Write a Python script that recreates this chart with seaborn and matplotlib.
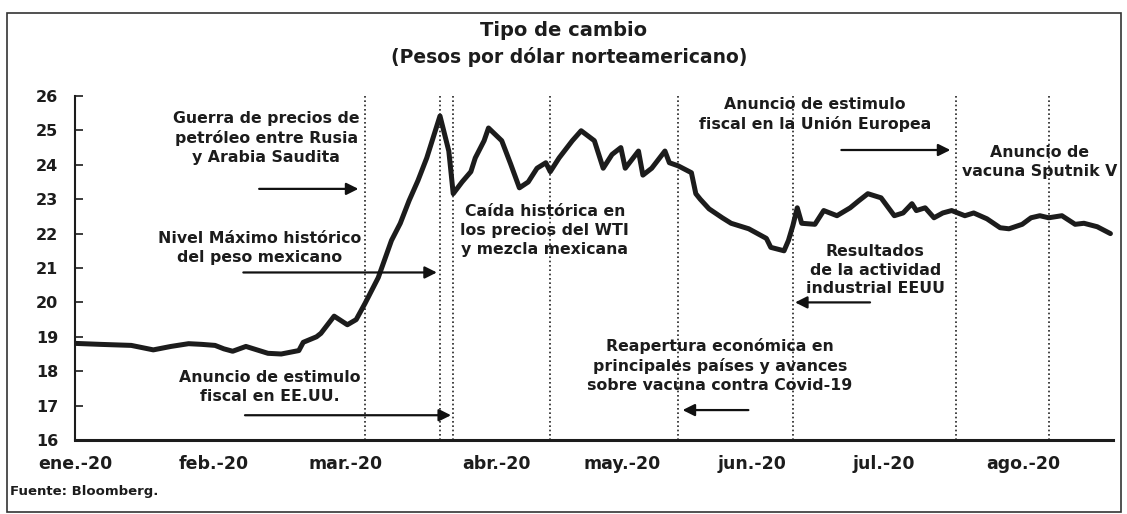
import matplotlib
matplotlib.use("Agg")
import matplotlib.pyplot as plt
import seaborn as sns
import pandas as pd
from matplotlib.patches import Rectangle

# ---------------- data ----------------
fechas = [
    "2020-01-03", "2020-01-09", "2020-01-16", "2020-01-21", "2020-01-25", "2020-01-29",
    "2020-02-01", "2020-02-04", "2020-02-06", "2020-02-08", "2020-02-11", "2020-02-14",
    "2020-02-16", "2020-02-19", "2020-02-23", "2020-02-24", "2020-02-27", "2020-02-28",
    "2020-03-02", "2020-03-05", "2020-03-07", "2020-03-09", "2020-03-12", "2020-03-15",
    "2020-03-17", "2020-03-19", "2020-03-21", "2020-03-23", "2020-03-26", "2020-03-28",
    "2020-03-29", "2020-03-31", "2020-04-02", "2020-04-03", "2020-04-05", "2020-04-06",
    "2020-04-09", "2020-04-11", "2020-04-13", "2020-04-15", "2020-04-17", "2020-04-19",
    "2020-04-20", "2020-04-22", "2020-04-25", "2020-04-27", "2020-04-30", "2020-05-02",
    "2020-05-04", "2020-05-06", "2020-05-07", "2020-05-10", "2020-05-11", "2020-05-13",
    "2020-05-16", "2020-05-17", "2020-05-19", "2020-05-22", "2020-05-23", "2020-05-24",
    "2020-05-26", "2020-05-29", "2020-05-31", "2020-06-04", "2020-06-06", "2020-06-08",
    "2020-06-09", "2020-06-12", "2020-06-13", "2020-06-14", "2020-06-15", "2020-06-16",
    "2020-06-19", "2020-06-21", "2020-06-24", "2020-06-27", "2020-06-29", "2020-07-01",
    "2020-07-04", "2020-07-07", "2020-07-09", "2020-07-11", "2020-07-12", "2020-07-14",
    "2020-07-16", "2020-07-18", "2020-07-20", "2020-07-23", "2020-07-25", "2020-07-28",
    "2020-07-31", "2020-08-02", "2020-08-05", "2020-08-07", "2020-08-09", "2020-08-11",
    "2020-08-14", "2020-08-17", "2020-08-19", "2020-08-22", "2020-08-25",
]
tipo_cambio = [
    18.81, 18.78, 18.75, 18.62, 18.72, 18.80,
    18.78, 18.75, 18.65, 18.58, 18.72, 18.60,
    18.52, 18.50, 18.60, 18.84, 19.00, 19.10,
    19.60, 19.35, 19.50, 19.97, 20.72, 21.80,
    22.30, 22.96, 23.54, 24.20, 25.42, 24.40,
    23.16, 23.50, 23.80, 24.20, 24.70, 25.07,
    24.70, 24.03, 23.33, 23.50, 23.90, 24.06,
    23.80, 24.20, 24.70, 24.99, 24.70, 23.90,
    24.30, 24.50, 23.90, 24.40, 23.70, 23.90,
    24.40, 24.06, 23.97, 23.77, 23.16, 23.00,
    22.72, 22.46, 22.30, 22.14, 22.00, 21.86,
    21.60, 21.50, 21.80, 22.23, 22.75, 22.30,
    22.27, 22.67, 22.52, 22.75, 22.96, 23.16,
    23.04, 22.52, 22.60, 22.87, 22.67, 22.75,
    22.46, 22.60, 22.67, 22.52, 22.60, 22.43,
    22.17, 22.14, 22.27, 22.46, 22.52, 22.46,
    22.52, 22.27, 22.30, 22.20, 22.00,
]
eventos = ["2020-03-09", "2020-03-26", "2020-03-29", "2020-04-20",
           "2020-05-19", "2020-06-14", "2020-07-21", "2020-08-11"]
meses = ["ene.-20", "feb.-20", "mar.-20", "abr.-20", "may.-20", "jun.-20", "jul.-20", "ago.-20"]
meses_pos = ["2020-01-03 06:00", "2020-02-03 19:00", "2020-03-04 12:00", "2020-04-07 17:00",
             "2020-05-06 07:00", "2020-06-04 19:00", "2020-07-04 17:00", "2020-08-05 05:00"]
y_ticks = list(range(16, 27))

titulo = "Tipo de cambio"
subtitulo = "(Pesos por dólar norteamericano)"
fuente = "Fuente: Bloomberg."

notas = [
    ("Guerra de precios de\npetróleo entre Rusia\ny Arabia Saudita", "2020-02-15 14:00", 24.78),
    ("Nivel Máximo histórico\ndel peso mexicano", "2020-02-14", 21.58),
    ("Anuncio de estimulo\nfiscal en EE.UU.", "2020-02-16 12:00", 17.55),
    ("Caída histórica en\nlos precios del WTI\ny mezcla mexicana", "2020-04-18 19:00", 22.09),
    ("Resultados\nde la actividad\nindustrial EEUU", "2020-07-02 17:00", 20.94),
    ("Reapertura económica en\nprincipales países y avances\nsobre vacuna contra Covid-19", "2020-05-28 12:00", 18.17),
    ("Anuncio de estimulo\nfiscal en la Unión Europea", "2020-06-19", 25.46),
    ("Anuncio de\nvacuna Sputnik V", "2020-08-09", 24.09),
]
# (tail date, head date, level)
flechas = [
    ("2020-02-14", "2020-03-07 12:00", 23.30),
    ("2020-02-10 10:00", "2020-03-25 07:00", 20.87),
    ("2020-02-10 19:00", "2020-03-28 12:00", 16.72),
    ("2020-07-01 12:00", "2020-06-14 12:00", 20.00),
    ("2020-06-03 22:00", "2020-05-20", 16.87),
    ("2020-06-25", "2020-07-19 17:00", 24.43),
]

# ---------------- plot ----------------
sns.set_theme(style="white")
plt.rcParams["font.family"] = ["DejaVu Sans"]

W, H = 1127, 514
fig = plt.figure(figsize=(W / 100, H / 100), dpi=100)
fig.patch.set_facecolor("white")
ax = fig.add_axes([75 / W, 1 - 440 / H, (1113 - 75) / W, (440 - 96) / H])

df = pd.DataFrame({"fecha": pd.to_datetime(fechas), "tipo": tipo_cambio})
sns.lineplot(data=df, x="fecha", y="tipo", ax=ax, color="#1c1c1c", linewidth=3.6, zorder=3)

for d in eventos:
    ax.axvline(pd.Timestamp(d), color="#222222", lw=1.2, ls=(0, (1, 1.6)), zorder=1)

ax.set_xlim(pd.Timestamp("2020-01-03 06:00"), pd.Timestamp("2020-08-25 14:00"))
ax.set_ylim(16, 26)
ax.set_yticks(y_ticks)
ax.set_yticklabels([str(v) for v in y_ticks], fontweight="bold")
ax.set_xticks([pd.Timestamp(d) for d in meses_pos])
ax.set_xticklabels(meses, fontweight="bold")
ax.tick_params(axis="y", direction="in", length=6, width=1.2, pad=12, labelsize=11.5,
               colors="#1c1c1c", left=True)
ax.tick_params(axis="x", length=0, pad=11, labelsize=12.5, colors="#1c1c1c")
ax.set_xlabel("")
ax.set_ylabel("")
for s in ["top", "right"]:
    ax.spines[s].set_visible(False)
ax.spines["left"].set_linewidth(1.5)
ax.spines["left"].set_color("#1c1c1c")
ax.spines["bottom"].set_linewidth(2.2)
ax.spines["bottom"].set_color("#1c1c1c")
ax.grid(False)

for txt, d, y in notas:
    ax.text(pd.Timestamp(d), y, txt, ha="center", va="center", fontsize=11.3,
            fontweight="bold", color="#1c1c1c", linespacing=1.32, zorder=4, clip_on=False)

for t0, t1, y in flechas:
    ax.annotate("", xy=(pd.Timestamp(t1), y), xytext=(pd.Timestamp(t0), y),
                arrowprops=dict(arrowstyle="-|>", color="#111111", lw=1.6,
                                mutation_scale=18, shrinkA=0, shrinkB=0),
                zorder=4)

fig.text(0.5, 1 - 31 / H, titulo, ha="center", va="center", fontsize=14,
         fontweight="bold", color="#1c1c1c")
fig.text(0.505, 1 - 57 / H, subtitulo, ha="center", va="center", fontsize=13.5,
         fontweight="bold", color="#1c1c1c")
fig.text(10 / W, 1 - 492 / H, fuente, ha="left", va="center", fontsize=9.5,
         fontweight="bold", color="#1c1c1c")

fig.patches.append(Rectangle((7 / W, 2 / H), (1121 - 7) / W, (512 - 13) / H,
                             transform=fig.transFigure, fill=False,
                             ec="#333333", lw=1.2))

fig.savefig("out.png", dpi=100)
